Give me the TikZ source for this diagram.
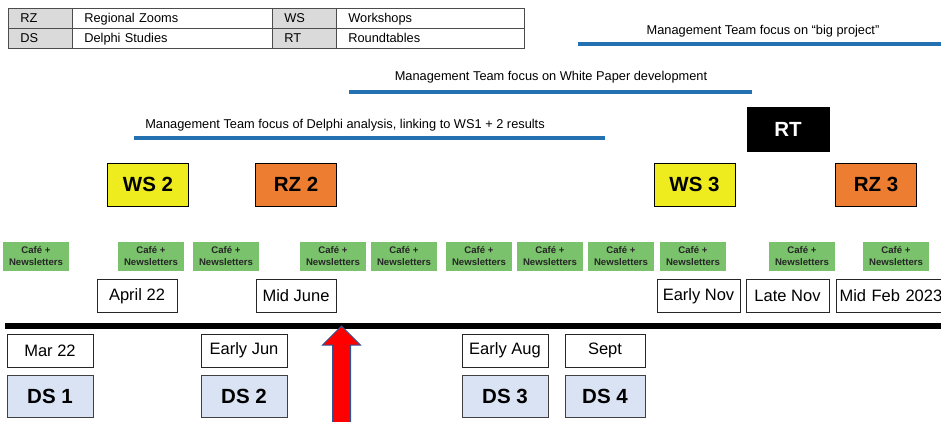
\documentclass[tikz,border=0pt]{standalone}
\usepackage{fontspec}
\setmainfont{Liberation Sans}
\definecolor{barblue}{RGB}{36,113,178}
\definecolor{wsyellow}{RGB}{238,236,30}
\definecolor{rzorange}{RGB}{237,125,49}
\definecolor{cafegreen}{RGB}{122,194,108}
\definecolor{dsblue}{RGB}{218,227,243}
\definecolor{keygray}{RGB}{218,218,218}
\definecolor{arrowblue}{RGB}{47,85,151}
\tikzset{
  cell/.style={draw=black!70, line width=0.6pt, minimum height=20pt, inner sep=0pt,
    anchor=north west, text depth=0pt, align=left, font=\fontsize{12.8}{14}\selectfont},
  keycell/.style={cell, fill=keygray, minimum width=64pt, text width=40pt},
  namecell/.style={cell, minimum width=200pt, text width=176pt},
  focusbar/.style={barblue, line width=4.5pt},
  focustext/.style={font=\fontsize{12.8}{14}\selectfont},
  event/.style={draw=black, line width=1pt, minimum width=81pt, minimum height=43pt,
    inner sep=0pt, font=\fontsize{20.5}{22}\selectfont\bfseries},
  wsbox/.style={event, fill=wsyellow},
  rzbox/.style={event, fill=rzorange},
  rtbox/.style={event, fill=black, text=white, minimum width=82pt, minimum height=44pt},
  cafe/.style={fill=cafegreen, minimum width=66pt, minimum height=29pt, inner sep=0pt,
    align=center, text=black!85, font=\fontsize{9.6}{11.5}\selectfont\bfseries},
  datebox/.style={draw=black!85, line width=1pt, minimum height=33pt, inner sep=0pt,
    font=\fontsize{16.5}{18}\selectfont},
  dsbox/.style={draw=black!75, line width=1pt, fill=dsblue, minimum height=42pt,
    inner sep=0pt, font=\fontsize{20.5}{22}\selectfont\bfseries}
}
\begin{document}
\begin{tikzpicture}[x=1pt,y=-1pt]
  \useasboundingbox (0,0) rectangle (941,421);
  % legend
  \node[keycell] (kRZ) at (8,8) {RZ};
  \node[namecell] (nRZ) at (72,8) {Regional Zooms};
  \node[keycell] (kWS) at (272,8) {WS};
  \node[namecell, minimum width=188pt, text width=164pt] (nWS) at (336,8) {Workshops};
  \node[keycell] (kDS) at (8,28) {DS};
  \node[namecell] (nDS) at (72,28) {Delphi Studies};
  \node[keycell] (kRT) at (272,28) {RT};
  \node[namecell, minimum width=188pt, text width=164pt] (nRT) at (336,28) {Roundtables};
  % management focus bars
  \coordinate (big-s) at (578,44);
  \coordinate (big-e) at (945,44);
  \coordinate (wp-s) at (349,92);
  \coordinate (wp-e) at (752,92);
  \coordinate (del-s) at (134,138);
  \coordinate (del-e) at (605,138);
  \draw[focusbar] (big-s) -- (big-e);
  \draw[focusbar] (wp-s) -- (wp-e);
  \draw[focusbar] (del-s) -- (del-e);
  \node[focustext] (bigtxt) at (763,31) {Management Team focus on “big project”};
  \node[focustext] (wptxt) at (551,77) {Management Team focus on White Paper development};
  \node[focustext] (deltxt) at (345,125) {Management Team focus of Delphi analysis, linking to WS1 + 2 results};
  % events
  \node[rtbox] (RT) at (788,129) {RT};
  \node[wsbox] (WS2) at (148,184.5) {WS 2};
  \node[rzbox] (RZ2) at (296,184.5) {RZ 2};
  \node[wsbox] (WS3) at (694.5,184.5) {WS 3};
  \node[rzbox] (RZ3) at (876,184.5) {RZ 3};
  % cafe + newsletters
  \foreach \cx [count=\i] in {36,151,226,333,404,479,550,621,693,802,896}
    \node[cafe] (cafe\i) at (\cx,256) {Café +\\Newsletters};
  % dates above the line
  \node[datebox, minimum width=80pt] (apr) at (137,296) {April 22};
  \node[datebox, minimum width=80pt] (jun) at (296,296) {Mid June};
  \node[datebox, minimum width=83pt] (enov) at (698.5,296) {Early Nov};
  \node[datebox, minimum width=83pt] (lnov) at (787.5,296) {Late Nov};
  \node[datebox, minimum width=110pt, anchor=west, align=left, text width=104pt] (feb) at (836,296) {Mid Feb 2023};
  % timeline
  \coordinate (tl-s) at (5,326);
  \coordinate (tl-e) at (945,326);
  \draw[line width=6pt] (tl-s) -- (tl-e);
  % dates below the line and Delphi studies
  \node[datebox, minimum width=86pt] (mar) at (50,350.5) {Mar 22};
  \node[datebox, minimum width=86pt] (ejun) at (244,350.5) {Early Jun};
  \node[datebox, minimum width=86pt] (eaug) at (505,350.5) {Early Aug};
  \node[datebox, minimum width=80pt] (sept) at (605,350.5) {Sept};
  \node[dsbox, minimum width=86pt] (DS1) at (50,396) {DS 1};
  \node[dsbox, minimum width=86pt] (DS2) at (244,396) {DS 2};
  \node[dsbox, minimum width=86pt] (DS3) at (505,396) {DS 3};
  \node[dsbox, minimum width=80pt] (DS4) at (605,396) {DS 4};
  % now arrow
  \coordinate (now) at (341.5,326);
  \draw[arrowblue, line width=1pt, fill=red]
    (now) -- ++(19,19) -- ++(-10,0) -- ++(0,80) -- ++(-18,0) -- ++(0,-80) -- ++(-10,0) -- cycle;
\end{tikzpicture}
\end{document}
